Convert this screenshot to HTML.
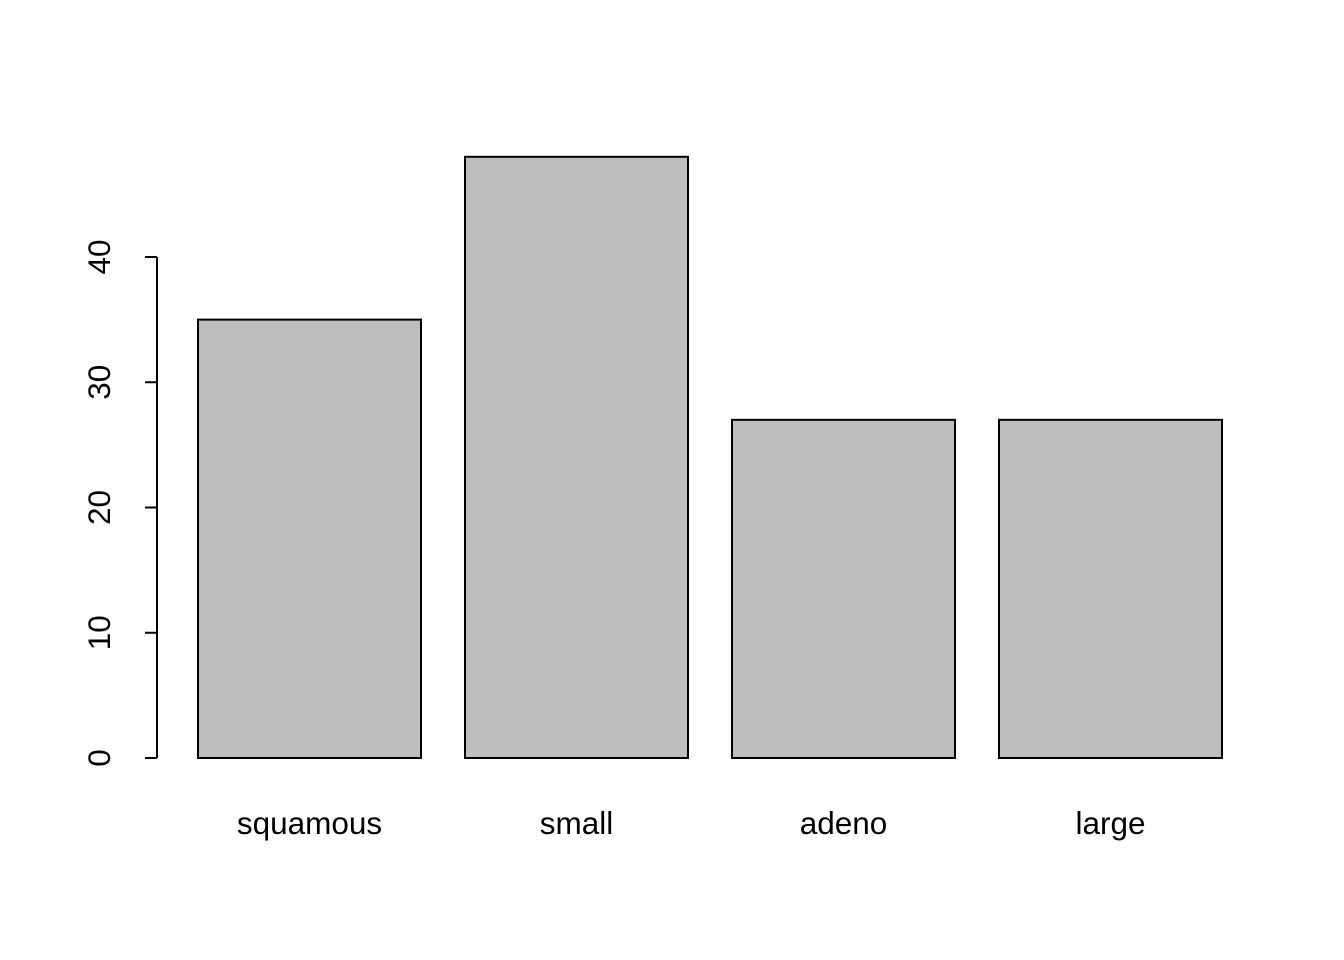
<!DOCTYPE html>
<html><head><meta charset="utf-8"><style>
html,body{margin:0;padding:0;background:#fff}
svg{display:block}
text{font-family:"Liberation Sans",Arial,sans-serif;fill:#000}
</style></head><body>
<svg id="chart" width="1344" height="960"></svg>
<script>
const categories = ["squamous","small","adeno","large"];
const values = [35,48,27,27];
const yTicks = [0,10,20,30,40];
const NS="http://www.w3.org/2000/svg";
const svg=document.getElementById('chart');
const y0=758, pxPerUnit=12.525;
function yScale(v){return y0 - v*pxPerUnit;}
const barW=223, gap=44, left0=198;
function xScale(i){return left0 + i*(barW+gap);}
function mk(tag,attrs){const e=document.createElementNS(NS,tag);for(const k in attrs)e.setAttribute(k,attrs[k]);svg.appendChild(e);return e;}
categories.forEach((c,i)=>{
  const r=mk('rect',{x:xScale(i),y:yScale(values[i]),width:barW,height:yScale(0)-yScale(values[i]),fill:'#bebebe',stroke:'#000','stroke-width':2});
  
  
  const t=mk('text',{x:xScale(i)+barW/2,y:834,'text-anchor':'middle','font-size':31.5});
  t.textContent=c;
  
  
});
const ax=mk('line',{x1:157,x2:157,y1:yScale(yTicks[yTicks.length-1]),y2:yScale(yTicks[0]),stroke:'#000','stroke-width':2});


yTicks.forEach(v=>{
  const l=mk('line',{x1:145,x2:157,y1:yScale(v),y2:yScale(v),stroke:'#000','stroke-width':2});
  
  
  const t=mk('text',{x:110,y:yScale(v),'text-anchor':'middle','font-size':31.5,transform:`rotate(-90 110 ${yScale(v)})`});
  t.textContent=v;
  
  
});
</script>
</body></html>
